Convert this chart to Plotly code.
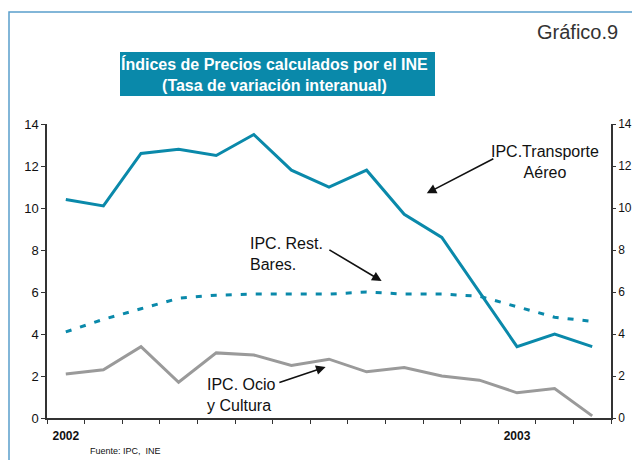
import plotly.graph_objects as go

# ---- data ----
months = ["ene-02", "feb-02", "mar-02", "abr-02", "may-02", "jun-02", "jul-02",
          "ago-02", "sep-02", "oct-02", "nov-02", "dic-02", "ene-03", "feb-03", "mar-03"]
year_labels = {"ene-02": "2002", "ene-03": "2003"}

transporte_aereo = [10.4, 10.1, 12.6, 12.8, 12.5, 13.5, 11.8, 11.0, 11.8, 9.7, 8.6, 6.0, 3.4, 4.0, 3.4]
rest_bares = [4.1, 4.7, 5.2, 5.7, 5.85, 5.9, 5.9, 5.9, 6.0, 5.9, 5.9, 5.8, 5.3, 4.8, 4.6]
ocio_cultura = [2.1, 2.3, 3.4, 1.7, 3.1, 3.0, 2.5, 2.8, 2.2, 2.4, 2.0, 1.8, 1.2, 1.4, 0.1]

y_ticks = [0, 2, 4, 6, 8, 10, 12, 14]

TEAL = "#0a89aa"
GRAY = "#9a9a9a"
AXIS = "#333333"
FONT = "Liberation Sans"

fig = go.Figure()
fig.add_trace(go.Scatter(x=months, y=transporte_aereo, mode="lines",
                         line=dict(color=TEAL, width=3), showlegend=False))
fig.add_trace(go.Scatter(x=months, y=rest_bares, mode="lines",
                         line=dict(color=TEAL, width=3, dash="6px,9px"), showlegend=False))
fig.add_trace(go.Scatter(x=months, y=ocio_cultura, mode="lines",
                         line=dict(color=GRAY, width=3), showlegend=False))
# empty trace to activate the right-hand axis
fig.add_trace(go.Scatter(x=[], y=[], yaxis="y2", showlegend=False, hoverinfo="skip"))

ticktext = ["<b>%s</b>" % year_labels[m] if m in year_labels else "" for m in months]

W, H = 632, 460
L, R, T, B = 47, 21, 124, 42
pw, ph = W - L - R, H - T - B


def px(x):
    return (x - L) / pw


def py(y):
    return (H - B - y) / ph


fig.update_layout(
    width=W, height=H,
    margin=dict(l=L, r=R, t=T, b=B, autoexpand=False),
    paper_bgcolor="white", plot_bgcolor="white",
    font=dict(family=FONT, color="#111111", size=13),
    xaxis=dict(
        type="category", categoryorder="array", categoryarray=months,
        range=[-0.5, len(months) - 0.5], automargin=False,
        tickmode="array", tickvals=months, ticktext=ticktext,
        tickson="boundaries", ticks="outside", ticklen=4, tickcolor=AXIS, tickwidth=1.2,
        showline=True, linecolor=AXIS, linewidth=1.5, showgrid=False, zeroline=False,
        tickfont=dict(size=12, color="#111111"), ticklabelstandoff=6,
    ),
    yaxis=dict(
        range=[0, 14], tickmode="array", tickvals=y_ticks, automargin=False,
        ticks="outside", ticklen=4, tickcolor=AXIS, tickwidth=1.2,
        showline=True, linecolor=AXIS, linewidth=1.5, showgrid=False, zeroline=False,
        tickfont=dict(size=13),
    ),
    yaxis2=dict(
        range=[0, 14], tickmode="array", tickvals=y_ticks, overlaying="y", side="right",
        automargin=False,
        ticks="outside", ticklen=3, tickcolor=AXIS, tickwidth=1.2,
        showline=True, linecolor=AXIS, linewidth=1.5, showgrid=False, zeroline=False,
        tickfont=dict(size=12),
    ),
)

# outer frame (left & top edges visible)
fig.add_shape(type="rect", xref="paper", yref="paper",
              x0=px(9), x1=px(W + 10), y0=py(H + 10), y1=py(12),
              line=dict(color="#5a9fcc", width=1.5), fillcolor="rgba(0,0,0,0)", layer="below")

# title box
fig.add_shape(type="rect", xref="paper", yref="paper",
              x0=px(120), x1=px(435), y0=py(96), y1=py(52),
              line=dict(width=0), fillcolor=TEAL)
fig.add_annotation(xref="paper", yref="paper", x=px(274), y=py(74),
                   text="<b>Índices de Precios calculados por el INE<br>(Tasa de variación interanual)</b>",
                   showarrow=False, font=dict(family=FONT, size=16, color="white"),
                   align="center", xanchor="center", yanchor="middle")

fig.add_annotation(xref="paper", yref="paper", x=px(620), y=py(32),
                   text="Gráfico.9", showarrow=False,
                   font=dict(family=FONT, size=20, color="#333333"),
                   xanchor="right", yanchor="middle")

fig.add_annotation(xref="paper", yref="paper", x=px(88), y=py(451),
                   text="Fuente: IPC,  INE", showarrow=False,
                   font=dict(family=FONT, size=9, color="#111111"),
                   xanchor="left", yanchor="middle")

# series labels
lab_font = dict(family=FONT, size=16, color="#111111")
fig.add_annotation(x=12.74, y=12.2, text="IPC.Transporte<br>Aéreo", showarrow=False,
                   font=lab_font, align="center", xanchor="center", yanchor="middle")
fig.add_annotation(x=4.84, y=7.8, text="IPC. Rest.<br>Bares.", showarrow=False,
                   font=lab_font, align="left", xanchor="left", yanchor="middle")
fig.add_annotation(x=3.70, y=1.10, text="IPC. Ocio<br>y Cultura", showarrow=False,
                   font=lab_font, align="left", xanchor="left", yanchor="middle")

# arrows
arrows = [
    ((9.6, 10.7), (11.41, 12.38)),
    ((8.40, 6.52), (6.97, 8.05)),
    ((6.91, 2.43), (5.64, 1.67)),
]
for (hx, hy), (tx, ty) in arrows:
    fig.add_annotation(x=hx, y=hy, ax=tx, ay=ty, axref="x", ayref="y",
                       text="", showarrow=True, arrowhead=2, arrowsize=1.2,
                       arrowwidth=1.6, arrowcolor="#111111")

fig.write_html("out.html", config={"displayModeBar": False},
               post_script="document.body.style.margin='0px';document.body.style.overflow='hidden';")
